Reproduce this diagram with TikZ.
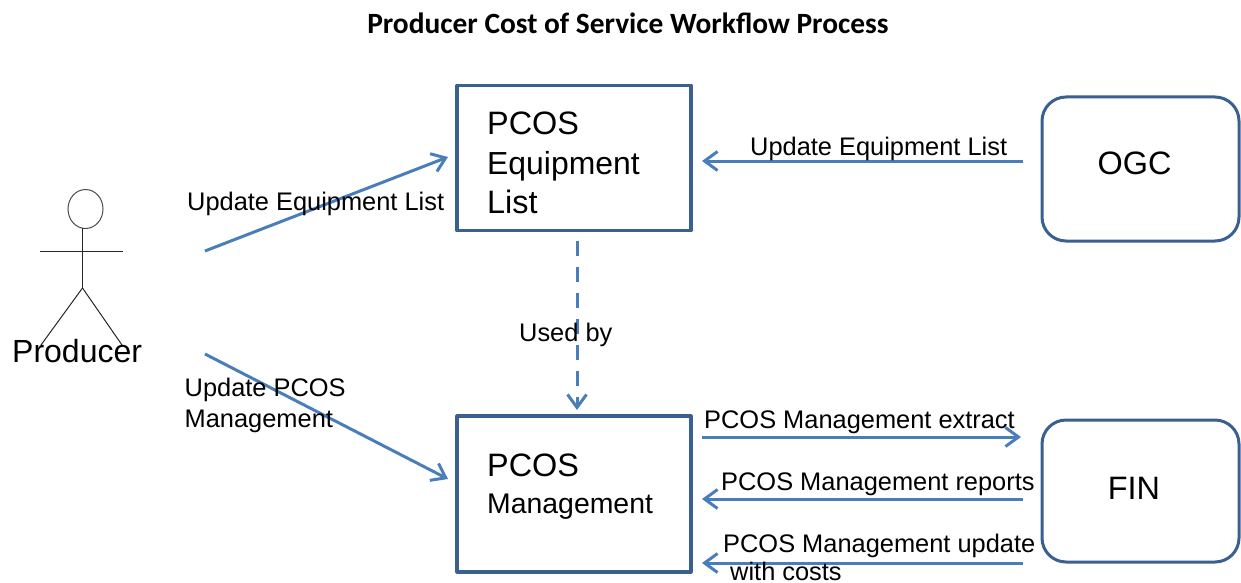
\documentclass[tikz,border=0pt]{standalone}
\usepackage{fontspec}
\setmainfont{Liberation Sans}
\newfontfamily\carl{Carlito}
\usetikzlibrary{arrows.meta,shapes.geometric}
\definecolor{blu}{HTML}{4A7EBB}
\definecolor{dkb}{HTML}{3A6090}
\tikzset{
 sq/.style={draw=dkb,line width=3.2pt,line join=round,fill=white},
 rbox/.style={draw=dkb,line width=3pt,rounded corners=24pt,fill=white},
 conn/.style={draw=blu,line width=3pt,-{Straight Barb[length=13pt,width=19pt,line width=3pt]}},
 lab/.style={inner sep=0pt,font=\fontsize{25.4}{30}\selectfont,text=black},
 big/.style={inner sep=0pt,font=\fontsize{32.4}{39}\selectfont,text=black},
 stick/.style={draw=black!85,line width=1pt},
}
\begin{document}
\begin{tikzpicture}[x=1pt,y=-1pt]
\useasboundingbox (0,0) rectangle (1241,583);
\node[inner sep=0pt,font=\carl\bfseries\fontsize{29.4}{35}\selectfont] (title) at (628,23) {Producer Cost of Service Workflow Process};
\coordinate (a1s) at (205,251); \coordinate (a1e) at (448,157);
\coordinate (a2s) at (205,354); \coordinate (a2e) at (448,479);
\coordinate (a3s) at (1023,161); \coordinate (a3e) at (702,161);
\coordinate (a4s) at (577,240.5); \coordinate (a4e) at (577,410);
\coordinate (a5s) at (702,437); \coordinate (a5e) at (1021,437);
\coordinate (a6s) at (1023,499); \coordinate (a6e) at (702,499);
\coordinate (a7s) at (1023,563); \coordinate (a7e) at (702,563);
\node[sq,minimum width=234pt,minimum height=145pt] (eq) at (574,158) {};
\node[sq,minimum width=234pt,minimum height=156pt] (mg) at (574,494) {};
\node[rbox,minimum width=197pt,minimum height=144pt] (ogc) at (1140.5,169) {};
\node[rbox,minimum width=197pt,minimum height=142pt] (fin) at (1140.5,491) {};
\node[big] (ogct) at (1134.5,163) {OGC};
\node[big] (fint) at (1134,488) {FIN};
\node[big,anchor=base west] (e1) at (487,134) {PCOS};
\node[big,anchor=base west,font=\fontsize{31.9}{39}\selectfont] (e2) at (487,174) {Equipment};
\node[big,anchor=base west] (e3) at (487,213) {List};
\node[big,anchor=base west] (p1) at (487,476) {PCOS};
\node[lab,anchor=base west,font=\fontsize{28.4}{34}\selectfont] (p2) at (487,513) {Management};
\draw[conn] (a1s) -- (a1e);
\draw[conn] (a2s) -- (a2e);
\draw[conn] (a3s) -- (a3e);
\draw[conn,dash pattern=on 15pt off 11pt] (a4s) -- (a4e);
\draw[conn] (a5s) -- (a5e);
\draw[conn] (a6s) -- (a6e);
\draw[conn] (a7s) -- (a7e);
\node[lab,anchor=base west] (l1) at (187,210) {Update Equipment List};
\node[lab,anchor=base west] (l2) at (750,155) {Update Equipment List};
\node[lab,anchor=base west] (l3) at (519,341) {Used by};
\node[lab,anchor=base west] (l4a) at (184.5,396) {Update PCOS};
\node[lab,anchor=base west] (l4b) at (184.5,427) {Management};
\node[lab,anchor=base west] (l5) at (704,428) {PCOS Management extract};
\node[lab,anchor=base west] (l6) at (721,490) {PCOS Management reports};
\node[lab,anchor=base west] (l7) at (723,552) {PCOS Management update};
\node[lab,anchor=base west] (l8) at (730,580.5) {with costs};
\node[draw=black!70,line width=1pt,ellipse,inner sep=0pt,minimum width=35pt,minimum height=39pt] (head) at (85.5,209) {};
\coordinate (neck) at (82.5,228); \coordinate (hip) at (82.5,288); \coordinate (shL) at (40,251); \coordinate (shR) at (123,251);
\coordinate (ftL) at (41,345); \coordinate (ftR) at (122,345);
\draw[stick] (neck) -- (hip);
\draw[stick] (shL) -- (shR);
\draw[stick] (hip) -- (ftL);
\draw[stick] (hip) -- (ftR);
\node[big,anchor=base west,font=\fontsize{32}{39}\selectfont] (prod) at (12,362) {Producer};
\end{tikzpicture}
\end{document}
